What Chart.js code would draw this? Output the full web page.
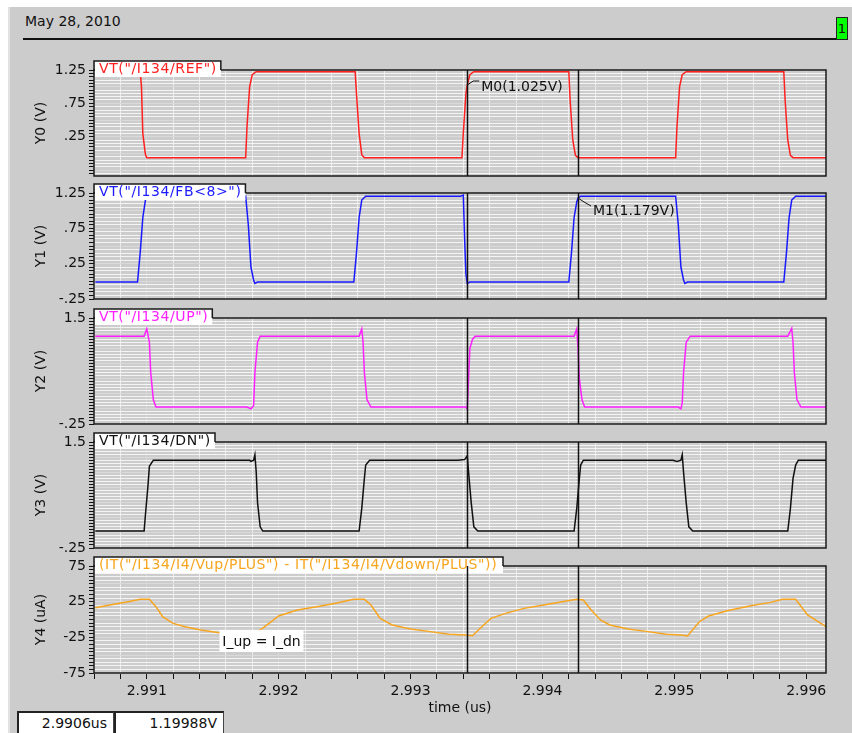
<!DOCTYPE html>
<html lang="en">
<head>
<meta charset="UTF-8" />
<title>I134 waveforms</title>
<script src="https://cdn.jsdelivr.net/npm/chart.js"></script>
<style>
  body {
    margin: 0;
    width: 852px;
    height: 733px;
    overflow: hidden;
    position: relative;
    background: #fff;
    font-family: "DejaVu Sans", sans-serif;
    color: #111;
  }
  .frame {
    position: absolute;
    left: 8px; top: 7px; right: 0; bottom: 0;
    background: #cccccc;
    border-left: 2px solid #e2e2e2;
  }
  .date { position: absolute; left: 25px; top: 13px; font-size: 14px; }
  .rule { position: absolute; left: 23px; top: 38px; width: 813px; height: 2px; background: #111; }
  .page {
    position: absolute; left: 836px; top: 17px; width: 10px; height: 21px;
    background: #00ff00; border: 1px solid #222;
    font-size: 13px; line-height: 21px; text-align: center;
  }
  canvas { position: absolute; left: 0; }
  .readout {
    position: absolute; top: 711px; height: 22px;
    box-sizing: border-box; background: #fff;
    border-top: 2px solid #222; border-left: 2px solid #222; border-right: 1px solid #444;
    font-size: 14px; line-height: 20px; text-align: right; padding-right: 6px;
  }
</style>
</head>
<body>
  <div class="frame"></div>
  <div class="date">May 28, 2010</div>
  <div class="rule"></div>
  <div class="page">1</div>

  <canvas id="p0" width="852" height="130" style="top:58px"></canvas>
  <canvas id="p1" width="852" height="130" style="top:181px"></canvas>
  <canvas id="p2" width="852" height="130" style="top:306px"></canvas>
  <canvas id="p3" width="852" height="130" style="top:430px"></canvas>
  <canvas id="p4" width="852" height="167" style="top:554px"></canvas>

  <div class="readout" style="left:17px; width:97px;">2.9906us</div>
  <div class="readout" style="left:114px; width:110px;">1.19988V</div>

<script>
// time axis (us)
const xMin = 2.9906;
const xMax = 2.99615;
const xTickLabels = [2.991, 2.992, 2.993, 2.994, 2.995, 2.996];

// cursors M0 / M1 and their readouts
const cursorTimes = [2.99343, 2.99427];
const cursorValues = [1.025, 1.179];

// y tick labels per panel
const y0Ticks = [1.25, 0.75, 0.25];
const y1Ticks = [1.25, 0.75, 0.25, -0.25];
const y2Ticks = [1.5, -0.25];
const y3Ticks = [1.5, -0.25];
const y4Ticks = [75, 25, -25, -75];

// VT("/I134/REF")
const refTime = [2.99061, 2.99095, 2.99096, 2.99097, 2.99099, 2.99100, 2.99175, 2.99176, 2.99178, 2.99180, 2.99183,
  2.99258, 2.99259, 2.99261, 2.99263, 2.99265, 2.99339, 2.99340, 2.99342, 2.99343, 2.99345, 2.99348,
  2.99420, 2.99421, 2.99423, 2.99425, 2.99427, 2.99501, 2.99502, 2.99504, 2.99506, 2.99509,
  2.99583, 2.99584, 2.99586, 2.99588, 2.99590, 2.99615];
const refVolt = [1.225, 1.225, 1.0, 0.3, -0.02, -0.065, -0.065, 0.4, 1.0, 1.18, 1.225,
  1.225, 0.9, 0.3, -0.02, -0.065, -0.065, 0.3, 0.9, 1.025, 1.18, 1.225,
  1.225, 0.8, 0.2, -0.03, -0.065, -0.065, 0.4, 1.0, 1.18, 1.225,
  1.225, 0.8, 0.2, -0.03, -0.065, -0.065];

// VT("/I134/FB<8>")
const fbTime = [2.99061, 2.99093, 2.99095, 2.99097, 2.99099, 2.99102, 2.99175, 2.99177, 2.99179, 2.99181, 2.99182, 2.99184,
  2.99257, 2.99259, 2.99261, 2.99263, 2.99266, 2.99338, 2.99340, 2.99341, 2.99342, 2.99343, 2.99345,
  2.99420, 2.99422, 2.99424, 2.99426, 2.99427, 2.99429, 2.99501, 2.99503, 2.99505, 2.99507, 2.99508, 2.99510,
  2.99583, 2.99585, 2.99587, 2.99589, 2.99592, 2.99615];
const fbVolt = [-0.01, -0.01, 0.4, 0.9, 1.15, 1.205, 1.205, 0.8, 0.2, 0.02, -0.03, -0.01,
  -0.01, 0.4, 0.9, 1.15, 1.205, 1.205, 1.22, 0.6, 0.1, -0.03, -0.01,
  -0.01, 0.4, 0.9, 1.12, 1.179, 1.205, 1.205, 0.8, 0.2, 0.02, -0.03, -0.01,
  -0.01, 0.4, 0.9, 1.15, 1.205, 1.205];

// VT("/I134/UP")
const upTime = [2.99061, 2.99098, 2.99100, 2.99102, 2.99103, 2.99105, 2.99107, 2.99176, 2.99179, 2.99181, 2.99182, 2.99184, 2.99186,
  2.99261, 2.99263, 2.99264, 2.99265, 2.99267, 2.99270, 2.99342, 2.99343, 2.99344, 2.99345, 2.99347, 2.99349,
  2.99424, 2.99426, 2.99427, 2.99428, 2.99430, 2.99432, 2.99503, 2.99505, 2.99506, 2.99507, 2.99509, 2.99512,
  2.99586, 2.99589, 2.99590, 2.99591, 2.99593, 2.99596, 2.99615];
const upVolt = [1.2, 1.2, 1.32, 1.1, 0.6, 0.15, 0.03, 0.03, 0.0, 0.05, 0.6, 1.1, 1.2,
  1.2, 1.32, 1.1, 0.6, 0.15, 0.03, 0.03, 0.0, 0.5, 1.0, 1.15, 1.2,
  1.2, 1.32, 1.0, 0.5, 0.15, 0.03, 0.03, 0.0, 0.1, 0.6, 1.1, 1.2,
  1.2, 1.33, 1.1, 0.6, 0.15, 0.03, 0.03];

// VT("/I134/DN")
const dnTime = [2.99061, 2.99098, 2.99099, 2.99101, 2.99102, 2.99105, 2.99178, 2.99179, 2.99181, 2.99182, 2.99183, 2.99184, 2.99186, 2.99188,
  2.99261, 2.99263, 2.99265, 2.99266, 2.99269, 2.99336, 2.99341, 2.99343, 2.99344, 2.99346, 2.99348, 2.99351,
  2.99424, 2.99426, 2.99428, 2.99429, 2.99431, 2.99499, 2.99502, 2.99505, 2.99506, 2.99507, 2.99509, 2.99511, 2.99514,
  2.99586, 2.99588, 2.99590, 2.99592, 2.99594, 2.99615];
const dnVolt = [0.03, 0.03, 0.3, 0.8, 1.1, 1.2, 1.2, 1.18, 1.2, 1.29, 1.0, 0.5, 0.1, 0.03,
  0.03, 0.4, 0.9, 1.12, 1.2, 1.2, 1.21, 1.27, 1.0, 0.5, 0.1, 0.03,
  0.03, 0.4, 0.9, 1.12, 1.2, 1.2, 1.18, 1.2, 1.29, 1.0, 0.5, 0.1, 0.03,
  0.03, 0.4, 0.9, 1.12, 1.2, 1.2];

// IT(Vup) - IT(Vdown), uA
const iTime = [2.99061, 2.99075, 2.99086, 2.99095, 2.99102, 2.99107, 2.99112, 2.99120, 2.99129, 2.99141, 2.99155, 2.99168,
  2.99180, 2.99188, 2.99200, 2.99214, 2.99229, 2.99243, 2.99257, 2.99265, 2.99270, 2.99277, 2.99286, 2.99300,
  2.99315, 2.99329, 2.99342, 2.99347, 2.99354, 2.99361, 2.99372, 2.99386, 2.99401, 2.99415, 2.99426, 2.99431,
  2.99437, 2.99444, 2.99451, 2.99465, 2.99480, 2.99494, 2.99505, 2.99510, 2.99519, 2.99526, 2.99540, 2.99558,
  2.99573, 2.99582, 2.99592, 2.99601, 2.99609, 2.99615];
const iDiff = [16.5, 21.3, 25, 28.3, 28.3, 18, 3.9, -5.4, -10.1, -14.8, -18.5, -20,
  -21, -12, 4.9, 13.3, 18, 22.7, 28.3, 28.3, 20.3, 1.6, -7.7, -13.4,
  -17, -20.8, -21.7, -22.7, -10.1, 1.6, 8.6, 15.6, 20.3, 25, 28.3, 27.4,
  13.3, -0.7, -7.7, -13.4, -17, -20.8, -21.7, -23, -3.1, 4.9, 12.3, 19.3,
  24, 28.3, 28.3, 6.3, -3.1, -10.1];

Chart.defaults.font.family = '"DejaVu Sans", sans-serif';
Chart.defaults.font.size = 14;
Chart.defaults.color = '#111';

function near(a, b) { return Math.abs(a - b) < 1e-7; }
function onStep(v, step) { const r = v / step; return Math.abs(r - Math.round(r)) < 1e-6; }
function fmt(v) { return String(v).replace(/^(-?)0\./, '$1.'); }
function labelFor(v, list) {
  const hit = list.find(l => near(l, v));
  return hit === undefined ? '' : fmt(hit);
}

// frame, label tab, cursors, marker text
const deco = {
  id: 'deco',
  afterDatasetsDraw(chart, args, o) {
    const { ctx, chartArea: a, scales: { x, y } } = chart;
    ctx.save();
    ctx.strokeStyle = '#1a1a1a';
    ctx.lineWidth = 1.5;
    ctx.strokeRect(a.left, a.top, a.right - a.left, a.bottom - a.top);

    ctx.font = '14px "DejaVu Sans"';
    ctx.letterSpacing = '0.6px';
    const tw = ctx.measureText(o.label).width;
    const tr = Math.max(o.tabRight, a.left + 5 + tw + 4);
    const tt = a.top - 9;
    ctx.fillStyle = '#fff';
    ctx.fillRect(a.left + 1, tt, tr - a.left - 1, 16);
    ctx.beginPath();
    ctx.moveTo(a.left, a.top);
    ctx.lineTo(a.left, tt);
    ctx.lineTo(tr, tt);
    ctx.lineTo(tr, a.top);
    ctx.stroke();
    ctx.fillStyle = o.color;
    ctx.textBaseline = 'middle';
    ctx.textAlign = 'left';
    ctx.fillText(o.label, a.left + 5, tt + 8);
    ctx.letterSpacing = '0px';

    ctx.strokeStyle = '#111';
    cursorTimes.forEach(t => {
      const px = Math.round(x.getPixelForValue(t)) + 0.5;
      ctx.beginPath();
      ctx.moveTo(px, a.top);
      ctx.lineTo(px, a.bottom);
      ctx.stroke();
    });

    if (o.marker) {
      const m = o.marker;
      const px = x.getPixelForValue(cursorTimes[m.idx]);
      const py = y.getPixelForValue(cursorValues[m.idx]);
      ctx.lineWidth = 1;
      ctx.beginPath();
      ctx.moveTo(px, py);
      ctx.lineTo(px + m.l1x, py + m.l1y);
      ctx.lineTo(px + m.l2x, py + m.l2y);
      ctx.stroke();
      ctx.fillStyle = '#111';
      ctx.fillText('M' + m.idx + '(' + cursorValues[m.idx] + 'V)', px + m.tx, py + m.ty);
    }

    if (o.note) {
      const n = o.note;
      const cx = x.getPixelForValue(n.t);
      const cy = y.getPixelForValue(n.v);
      ctx.fillStyle = '#fff';
      ctx.fillRect(cx - n.w / 2, cy - n.h / 2, n.w, n.h);
      ctx.fillStyle = '#111';
      ctx.textAlign = 'center';
      ctx.fillText(n.text, cx, cy + 1);
    }
    ctx.restore();
  }
};

const panels = [
  { id: 'p0', label: 'VT("/I134/REF")', color: '#ff2020', title: 'Y0 (V)', min: -0.34, max: 1.25,
    minor: 0.05, major: 0.25, ticks: y0Ticks, t: refTime, v: refVolt, tabRight: 217,
    marker: { idx: 0, l1x: 6, l1y: -4, l2x: 12, l2y: -4, tx: 14, ty: 2 } },
  { id: 'p1', label: 'VT("/I134/FB<8>")', color: '#1a1aff', title: 'Y1 (V)', min: -0.25, max: 1.25,
    minor: 0.05, major: 0.25, ticks: y1Ticks, t: fbTime, v: fbVolt, tabRight: 244,
    marker: { idx: 1, l1x: 6, l1y: 4, l2x: 13, l2y: 8, tx: 15, ty: 13 } },
  { id: 'p2', label: 'VT("/I134/UP")', color: '#ff20ff', title: 'Y2 (V)', min: -0.25, max: 1.5,
    minor: 0.05, major: 0.25, ticks: y2Ticks, t: upTime, v: upVolt, tabRight: 212 },
  { id: 'p3', label: 'VT("/I134/DN")', color: '#111111', title: 'Y3 (V)', min: -0.25, max: 1.5,
    minor: 0.05, major: 0.25, ticks: y3Ticks, t: dnTime, v: dnVolt, tabRight: 215 },
  { id: 'p4', label: '(IT("/I134/I4/Vup/PLUS") - IT("/I134/I4/Vdown/PLUS"))', color: '#f7a51e', title: 'Y4 (uA)',
    min: -75, max: 75, minor: 5, major: 25, ticks: y4Ticks, t: iTime, v: iDiff, tabRight: 503,
    note: { text: 'I_up = I_dn', t: 2.99187, v: -30, w: 84, h: 22 } }
];

panels.forEach((p, i) => {
  const last = i === panels.length - 1;
  new Chart(document.getElementById(p.id), {
    type: 'line',
    data: {
      datasets: [{
        data: p.t.map((t, k) => ({ x: t, y: p.v[k] })),
        borderColor: p.color,
        borderWidth: 1.5,
        pointRadius: 0,
        tension: 0
      }]
    },
    options: {
      responsive: false,
      animation: false,
      layout: { padding: { left: 0, right: 26, top: 12, bottom: last ? 0 : 12 } },
      plugins: {
        legend: { display: false },
        tooltip: { enabled: false },
        deco: { label: p.label, color: p.color, tabRight: p.tabRight, marker: p.marker || null, note: p.note || null }
      },
      scales: {
        x: {
          type: 'linear',
          min: xMin,
          max: xMax,
          afterFit: s => { s.height = last ? 48 : 0; },
          ticks: {
            display: last,
            stepSize: 0.0002,
            autoSkip: false,
            includeBounds: false,
            maxRotation: 0,
            padding: 4,
            callback: v => labelFor(v, xTickLabels)
          },
          grid: {
            color: c => onStep(c.tick.value, 0.001) ? '#d6d6d6' : '#ececec',
            drawTicks: last,
            tickLength: 6,
            tickColor: '#111'
          },
          border: { display: false },
          title: { display: last, text: 'time (us)', padding: { top: 2, bottom: 4 } }
        },
        y: {
          min: p.min,
          max: p.max,
          afterFit: s => { s.width = 94; },
          ticks: {
            stepSize: p.minor,
            autoSkip: false,
            includeBounds: false,
            padding: 3,
            callback: v => labelFor(v, p.ticks)
          },
          grid: {
            color: c => onStep(c.tick.value, p.major) ? '#dadada' : '#f4f4f4',
            tickLength: 5,
            tickColor: '#111'
          },
          border: { display: false },
          title: { display: true, text: p.title, padding: { top: 33, bottom: 0 } }
        }
      }
    },
    plugins: [deco]
  });
});
</script>
</body>
</html>
